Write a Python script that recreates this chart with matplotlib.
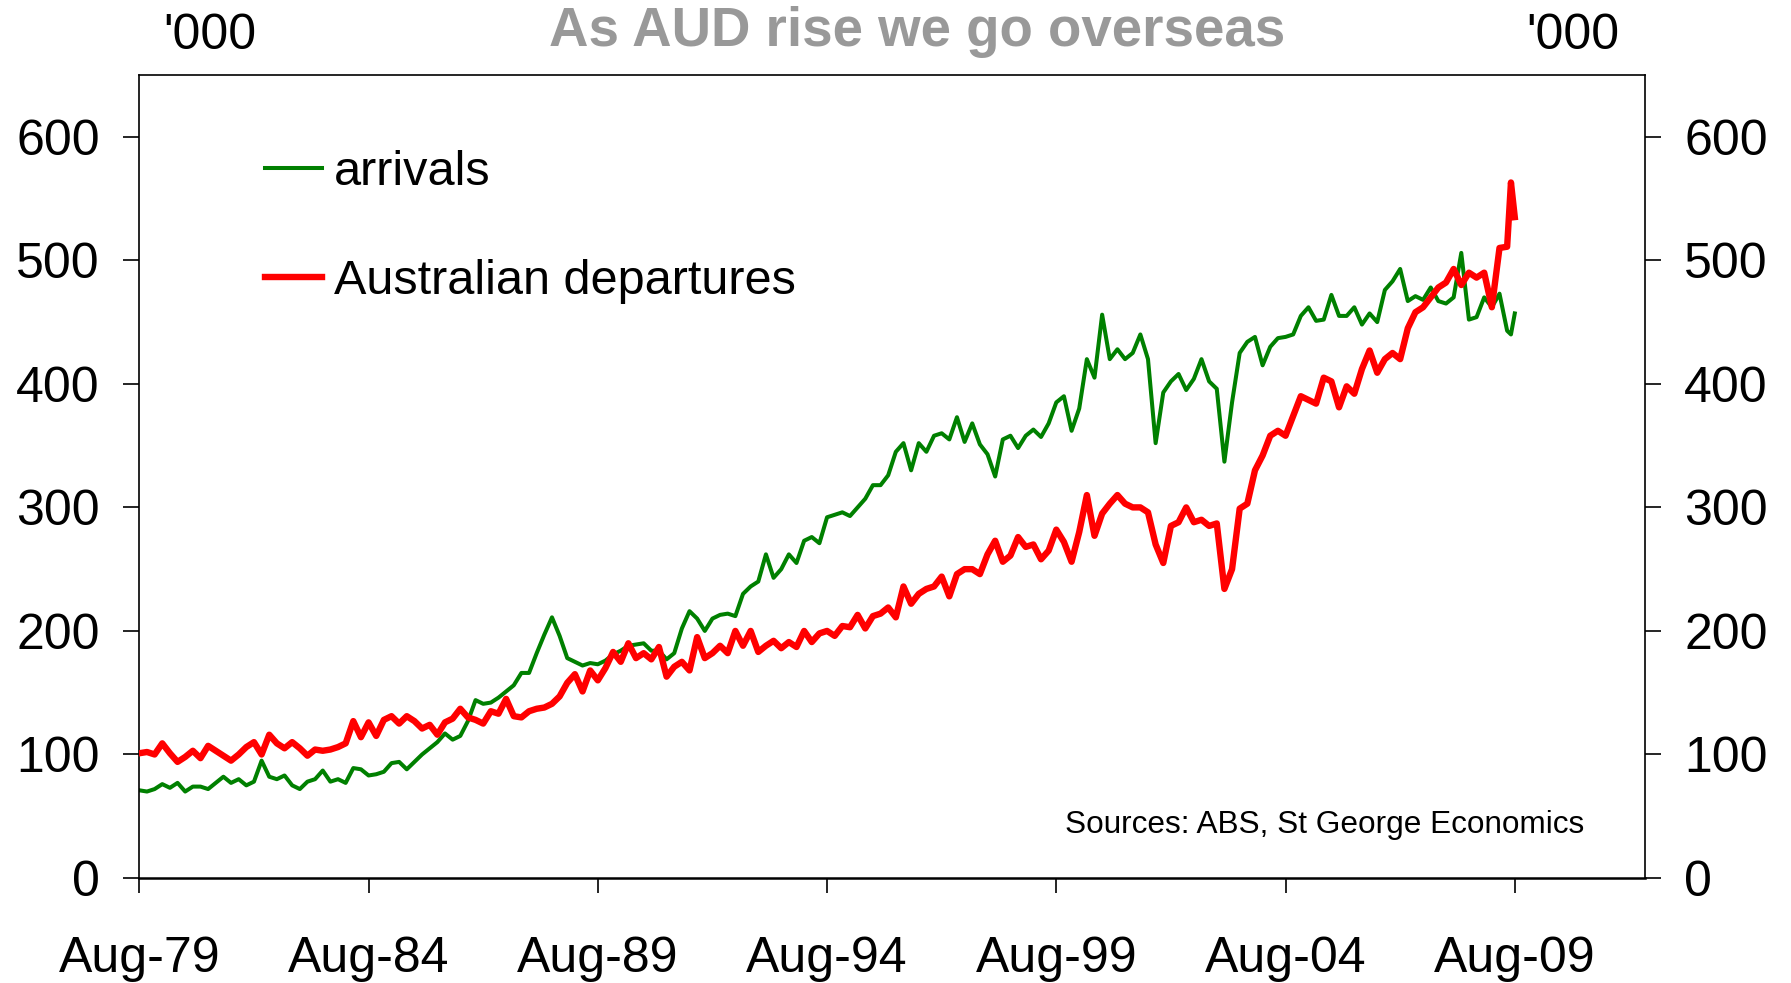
import matplotlib
matplotlib.use("Agg")
import matplotlib.pyplot as plt
from matplotlib.lines import Line2D

plt.rcParams['font.family'] = ['Liberation Sans', 'DejaVu Sans']

# Month index counted from Aug-1979 (0 = Aug-79, 360 = Aug-09)
months = list(range(0, 359, 2)) + [359, 360]

# Visitor arrivals, '000 per month
arrivals = [
    71, 70, 72, 76, 73, 77, 70, 74, 74, 72,
    77, 82, 77, 80, 75, 78, 95, 82, 80, 83,
    75, 72, 78, 80, 87, 78, 80, 77, 89, 88,
    83, 84, 86, 93, 94, 88, 94, 100, 105, 110,
    117, 112, 115, 127, 144, 141, 142, 146, 151, 156,
    166, 166, 182, 197, 211, 196, 178, 175, 172, 174,
    173, 176, 181, 184, 188, 189, 190, 184, 184, 177,
    182, 202, 216, 210, 200, 210, 213, 214, 212, 230,
    236, 240, 262, 243, 250, 262, 255, 273, 276, 271,
    292, 294, 296, 293, 300, 307, 318, 318, 326, 345,
    352, 330, 352, 345, 358, 360, 355, 373, 353, 368,
    351, 343, 325, 355, 358, 348, 358, 363, 357, 368,
    385, 390, 362, 380, 420, 405, 456, 420, 428, 420,
    425, 440, 420, 352, 393, 402, 408, 395, 404, 420,
    402, 396, 337, 385, 425, 434, 438, 415, 430, 437,
    438, 440, 455, 462, 451, 452, 472, 455, 455, 462,
    448, 457, 450, 476, 483, 493, 467, 471, 468, 478,
    467, 465, 470, 506, 452, 454, 470, 462, 473, 443,
    440, 457,
]

# Australian resident departures, '000 per month
departures = [
    101, 102, 100, 109, 101, 94, 98, 103, 97, 107,
    103, 99, 95, 100, 106, 110, 100, 116, 109, 105,
    110, 105, 99, 104, 103, 104, 106, 109, 127, 114,
    126, 115, 128, 131, 125, 131, 127, 121, 124, 116,
    126, 129, 137, 130, 128, 125, 135, 133, 145, 131,
    130, 135, 137, 138, 141, 147, 158, 165, 151, 168,
    160, 170, 183, 175, 190, 178, 182, 177, 187, 163,
    171, 175, 168, 195, 178, 182, 188, 182, 200, 188,
    200, 183, 188, 192, 186, 191, 187, 200, 191, 198,
    200, 196, 204, 203, 213, 202, 212, 214, 219, 211,
    236, 222, 230, 234, 236, 244, 228, 246, 250, 250,
    246, 262, 273, 256, 261, 276, 268, 270, 258, 265,
    282, 272, 256, 280, 310, 277, 295, 303, 310, 303,
    300, 300, 296, 270, 255, 285, 288, 300, 288, 290,
    285, 287, 234, 250, 299, 303, 330, 342, 358, 362,
    358, 374, 390, 387, 384, 405, 402, 381, 398, 392,
    412, 427, 409, 420, 425, 420, 445, 458, 462, 470,
    478, 482, 493, 480, 490, 486, 490, 462, 510, 511,
    563, 535,
]

tick_months = [0, 60, 120, 180, 240, 300, 360]
tick_labels = ['Aug-79', 'Aug-84', 'Aug-89', 'Aug-94', 'Aug-99', 'Aug-04', 'Aug-09']
y_ticks = [0, 100, 200, 300, 400, 500, 600]

GREEN = '#008000'
RED = '#ff0000'

fig = plt.figure(figsize=(17.91, 9.83), dpi=100)
ax = fig.add_axes([0.0778, 0.1068, 0.8405, 0.8169])

ax.plot(months, arrivals, color=GREEN, lw=2.9, solid_joinstyle='round', zorder=2)
ax.plot(months, departures, color=RED, lw=4.6, solid_joinstyle='round', zorder=3)

ax.set_xlim(0, 394)
ax.set_ylim(0, 650)
ax.set_xticks(tick_months, tick_labels)
ax.set_yticks(y_ticks)
ax.tick_params(axis='x', direction='out', length=11, width=1.2, pad=31,
               labelsize=36)
ax.tick_params(axis='y', direction='out', length=11.5, width=1.2, pad=17,
               labelsize=36, left=True, right=True,
               labelleft=True, labelright=True)
for side in ('left', 'right', 'top'):
    ax.spines[side].set_linewidth(1.2)
ax.spines['bottom'].set_linewidth(1.8)

handles = [Line2D([], [], color=GREEN, lw=2.9),
           Line2D([], [], color=RED, lw=4.6)]
ax.legend(handles, ['arrivals', 'Australian departures'],
          loc='upper left', bbox_to_anchor=(0.0835, 0.9065),
          frameon=False, fontsize=35, handlelength=1.17,
          handletextpad=0.24, labelspacing=1.31,
          borderaxespad=0, borderpad=0)

ax.text(0.9598, 0.0654, 'Sources: ABS, St George Economics',
        transform=ax.transAxes, ha='right', va='center', fontsize=22.7)

fig.text(0.512, 0.9675, 'As AUD rise we go overseas', ha='center',
         va='center', fontsize=39.3, fontweight='bold', color='#999999')
fig.text(0.1174, 0.9635, "'000", ha='center', va='center', fontsize=36)
fig.text(0.878, 0.9635, "'000", ha='center', va='center', fontsize=36)

fig.savefig('out.png', dpi=100)
